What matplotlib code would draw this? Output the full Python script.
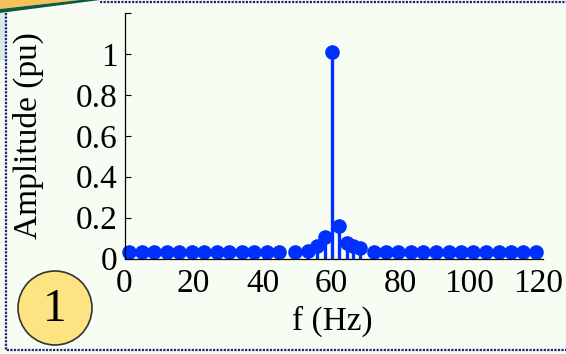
import matplotlib.pyplot as plt
from matplotlib.patches import Circle, Polygon

# Spectrum values
freq_hz = [1.4, 5.0, 8.6, 12.2, 15.9, 19.5, 23.1, 26.7, 30.4, 34.0, 37.6, 41.2, 44.9, 49.4,
           53.3, 55.7, 58.1, 60.0, 62.3, 64.4, 66.3, 68.3,
           72.3, 75.8, 79.4, 83.0, 86.6, 90.3, 93.9, 97.5, 101.1, 104.7, 108.4, 112.0, 115.6, 119.2]
amplitude = [0.03] * 13 + [0.032,
             0.037, 0.061, 0.106, 1.01, 0.159, 0.074, 0.061, 0.05] + [0.03] * 14
x_ticks = [0, 20, 40, 60, 80, 100, 120]
y_ticks = [0, 0.2, 0.4, 0.6, 0.8, 1.0, 1.2]
y_tick_labels = ["0", "0.2", "0.4", "0.6", "0.8", "1", ""]

W, H = 566, 354
bg = "#f8fdf3"
blue = "#0030ff"
plt.rcParams["font.family"] = ["Liberation Serif", "DejaVu Serif"]

fig = plt.figure(figsize=(W / 100, H / 100), dpi=100, facecolor=bg)

# Decorative overlay in pixel coordinates
deco = fig.add_axes([0, 0, 1, 1], zorder=0)
deco.set_xlim(0, W)
deco.set_ylim(H, 0)
deco.axis("off")
deco.add_patch(Polygon([(0, 0), (80, 0), (0, 9)], closed=True, color="#f6c15a", lw=0))
deco.add_patch(Polygon([(0, 9), (80, 0), (100, 0), (0, 13)], closed=True, color="#0d5a3e", lw=0))
deco.add_patch(Polygon([(0, 13), (6, 13), (6, 60), (0, 60)], closed=True, color="#dbe8ea", lw=0))
deco.plot([6, 6, W], [13, 350, 350], color="#1a2a6c", lw=1.6, ls=(0, (1, 0.6)))
deco.plot([100, W], [2, 2], color="#1a2a6c", lw=1.6, ls=(0, (1, 0.6)))
deco.add_patch(Circle((55, 308), 37, facecolor="#fde381", edgecolor="#333333", lw=1.2))
deco.text(55, 310, "1", fontsize=34, ha="center", va="center")

# Main axes
x0, x1 = 124.5, 542.7
y0, y1 = 258.5, 13.0
ax = fig.add_axes([x0 / W, 1 - y0 / H, (x1 - x0) / W, (y0 - y1) / H], zorder=1)
ax.set_facecolor("none")

markers, stems, base = ax.stem(freq_hz, amplitude, basefmt=" ")
markers.set_color(blue)
markers.set_markersize(9.5)
markers.set_clip_on(False)
stems.set_color(blue)
stems.set_linewidth(2.4)
base.set_visible(False)

ax.set_xlim(0, 121.2)
ax.set_ylim(0, 1.2)
ax.set_xticks(x_ticks)
ax.set_yticks(y_ticks)
ax.set_yticklabels(y_tick_labels)
ax.tick_params(direction="in", length=4, width=0.8, labelsize=24, colors="black")
ax.tick_params(axis="x", pad=7)
ax.tick_params(axis="y", pad=5)
ax.spines["top"].set_visible(False)
ax.spines["right"].set_visible(False)
ax.spines["left"].set_linewidth(0.9)
ax.spines["bottom"].set_linewidth(0.9)

fig.text(28 / W, 1 - 136 / H, "Amplitude (pu)", rotation=90, fontsize=24, ha="center", va="center")
fig.text(332 / W, 1 - 321 / H, "f (Hz)", fontsize=24, ha="center", va="center")

fig.savefig("out.png", dpi=100, facecolor=bg)
